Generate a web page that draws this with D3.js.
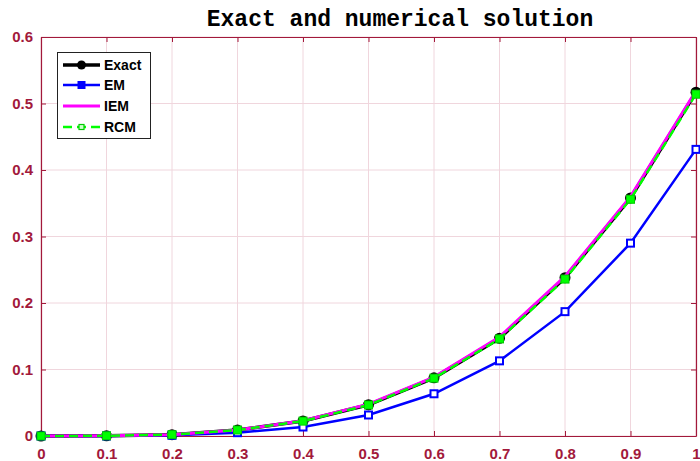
<!DOCTYPE html>
<html>
<head>
<meta charset="utf-8">
<script src="https://cdn.jsdelivr.net/npm/d3@7"></script>
<style>
  body { margin: 0; background: #fff; }
</style>
</head>
<body>
<script>
// chart values
const xs = [0, 0.1, 0.2, 0.3, 0.4, 0.5, 0.6, 0.7, 0.8, 0.9, 1];
const exact = [0, 0.0003, 0.002, 0.009, 0.0226, 0.047, 0.0875, 0.147, 0.238, 0.358, 0.517];
const em    = [0, 0.0000, 0.001, 0.005, 0.0135, 0.0316, 0.0635, 0.113, 0.187, 0.290, 0.431];
const iem   = [0, 0.0003, 0.002, 0.009, 0.0230, 0.048, 0.0885, 0.149, 0.240, 0.360, 0.519];
const rcm   = [0, 0.0003, 0.002, 0.009, 0.0224, 0.0466, 0.087, 0.146, 0.236, 0.356, 0.514];
const xTicks = [0, 0.1, 0.2, 0.3, 0.4, 0.5, 0.6, 0.7, 0.8, 0.9, 1];
const yTicks = [0, 0.1, 0.2, 0.3, 0.4, 0.5, 0.6];

const svgWidth = 700;
const svgHeight = 461;
const margin = { top: 37, right: 4, bottom: 25, left: 41 };
const axisColor = '#a2193b';
const gridColor = '#f0d6dd';

const svg = d3.select('body')
    .append('svg')
    .attr('width', svgWidth)
    .attr('height', svgHeight);

const xScale = d3.scaleLinear()
    .domain([0, 1])
    .range([margin.left, svgWidth - margin.right]);

const yScale = d3.scaleLinear()
    .domain([0, 0.6])
    .range([svgHeight - margin.bottom, margin.top]);

// grid
svg.append('g')
    .selectAll('line')
    .data(xTicks)
    .enter()
    .append('line')
    .attr('x1', d => xScale(d)).attr('x2', d => xScale(d))
    .attr('y1', yScale(0)).attr('y2', yScale(0.6))
    .attr('stroke', gridColor);

svg.append('g')
    .selectAll('line')
    .data(yTicks)
    .enter()
    .append('line')
    .attr('x1', xScale(0)).attr('x2', xScale(1))
    .attr('y1', d => yScale(d)).attr('y2', d => yScale(d))
    .attr('stroke', gridColor);

// axes
function styleAxis(g) {
    g.select('.domain').attr('stroke', axisColor).attr('stroke-width', 1.2);
    g.selectAll('.tick line').attr('stroke', axisColor);
    g.selectAll('.tick text')
        .attr('fill', axisColor)
        .style('font-family', '"Liberation Sans", Arial, sans-serif')
        .style('font-weight', 'bold')
        .style('font-size', '15px');
}

svg.append('g')
    .attr('transform', `translate(0,${yScale(0)})`)
    .call(d3.axisBottom(xScale).tickValues(xTicks).tickFormat(d3.format('')).tickSize(-5).tickSizeOuter(0).tickPadding(12))
    .call(styleAxis);

svg.append('g')
    .attr('transform', `translate(0,${yScale(0.6)})`)
    .call(d3.axisTop(xScale).tickValues(xTicks).tickFormat('').tickSize(-5).tickSizeOuter(0))
    .call(styleAxis);

svg.append('g')
    .attr('transform', `translate(${xScale(0)},0)`)
    .call(d3.axisLeft(yScale).tickValues(yTicks).tickFormat(d3.format('')).tickSize(-5).tickSizeOuter(0).tickPadding(8))
    .call(styleAxis);

svg.append('g')
    .attr('transform', `translate(${xScale(1)},0)`)
    .call(d3.axisRight(yScale).tickValues(yTicks).tickFormat('').tickSize(-5).tickSizeOuter(0))
    .call(styleAxis);

// series
const line = d3.line()
    .x((d, i) => xScale(xs[i]))
    .y(d => yScale(d));

svg.append('path')
    .datum(exact)
    .attr('fill', 'none')
    .attr('stroke', 'black')
    .attr('stroke-width', 3.5)
    .attr('d', line);

svg.append('g')
    .selectAll('circle')
    .data(exact)
    .enter()
    .append('circle')
    .attr('cx', (d, i) => xScale(xs[i]))
    .attr('cy', d => yScale(d))
    .attr('r', 5.5)
    .attr('fill', 'black');

svg.append('path')
    .datum(em)
    .attr('fill', 'none')
    .attr('stroke', '#0000ff')
    .attr('stroke-width', 2.5)
    .attr('d', line);

svg.append('g')
    .selectAll('rect')
    .data(em)
    .enter()
    .append('rect')
    .attr('x', (d, i) => xScale(xs[i]) - 3.5)
    .attr('y', d => yScale(d) - 3.5)
    .attr('width', 7)
    .attr('height', 7)
    .attr('fill', '#ffffff')
    .attr('stroke', '#0000ff')
    .attr('stroke-width', 2);

svg.append('path')
    .datum(iem)
    .attr('fill', 'none')
    .attr('stroke', '#ff00ff')
    .attr('stroke-width', 3)
    .attr('d', line);

svg.append('path')
    .datum(rcm)
    .attr('fill', 'none')
    .attr('stroke', '#00ff00')
    .attr('stroke-width', 2.5)
    .attr('stroke-dasharray', '9,5')
    .attr('d', line);

svg.append('g')
    .selectAll('rect')
    .data(rcm)
    .enter()
    .append('rect')
    .attr('x', (d, i) => xScale(xs[i]) - 4)
    .attr('y', d => yScale(d) - 4)
    .attr('width', 8)
    .attr('height', 8)
    .attr('fill', '#00ff00')
    .attr('stroke', '#00cc00')
    .attr('stroke-width', 1);

// title
svg.append('text')
    .attr('x', 400)
    .attr('y', 26)
    .attr('text-anchor', 'middle')
    .style('font-family', '"Liberation Mono", "Courier New", monospace')
    .style('font-weight', 'bold')
    .style('font-size', '23px')
    .text('Exact and numerical solution');

// legend
const legendItems = [
    { name: 'Exact', color: 'black', width: 3.5, marker: 'circle' },
    { name: 'EM', color: '#0000ff', width: 2.5, marker: 'square' },
    { name: 'IEM', color: '#ff00ff', width: 3, marker: null },
    { name: 'RCM', color: '#00ff00', width: 2.5, marker: 'small', dash: '9,5' }
];

const legend = svg.append('g');
legend.append('rect')
    .attr('x', 57.5).attr('y', 52.5)
    .attr('width', 93).attr('height', 86)
    .attr('fill', 'white')
    .attr('stroke', '#222')
    .attr('stroke-width', 1);

const legendY = [65, 85, 106, 127];
legendItems.forEach((item, i) => {
    const y = legendY[i];
    legend.append('line')
        .attr('x1', 63).attr('x2', 100)
        .attr('y1', y).attr('y2', y)
        .attr('stroke', item.color)
        .attr('stroke-width', item.width)
        .attr('stroke-dasharray', item.dash || null);
    if (item.marker === 'circle') {
        legend.append('circle').attr('cx', 81.5).attr('cy', y).attr('r', 4.5).attr('fill', 'black');
    } else if (item.marker === 'square') {
        legend.append('rect').attr('x', 78).attr('y', y - 3.5).attr('width', 7).attr('height', 7)
            .attr('fill', '#0000ff').attr('stroke', '#0000ff');
    } else if (item.marker === 'small') {
        legend.append('rect').attr('x', 79).attr('y', y - 2.5).attr('width', 5).attr('height', 5)
            .attr('fill', '#ccffcc').attr('stroke', '#00cc00').attr('stroke-width', 1.2);
    }
    legend.append('text')
        .attr('x', 104)
        .attr('y', y + 5)
        .style('font-family', '"Liberation Sans", Arial, sans-serif')
        .style('font-weight', 'bold')
        .style('font-size', '14px')
        .text(item.name);
});
</script>
</body>
</html>
